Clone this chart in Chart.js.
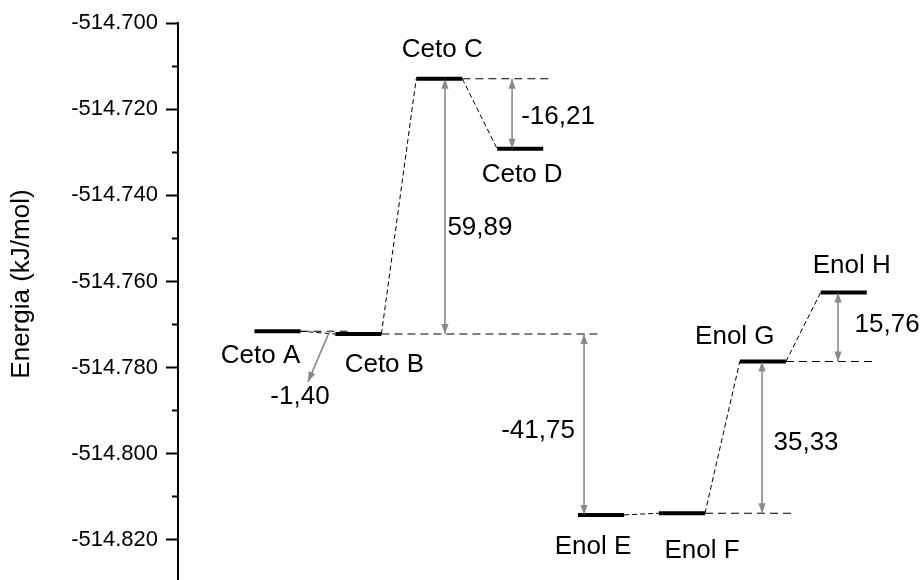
<!DOCTYPE html>
<html>
<head>
<meta charset="utf-8">
<script src="https://cdn.jsdelivr.net/npm/chart.js@4.4.0/dist/chart.umd.min.js"></script>
<style>
  html, body { margin: 0; padding: 0; background: #fff; overflow: hidden; }
  #wrap { width: 923px; height: 580px; position: relative; }
</style>
</head>
<body>
<div id="wrap"><canvas id="chart"></canvas></div>
<script>
// energy levels, one per conformer (x = position along the diagram)
const levelNames = ['Ceto A', 'Ceto B', 'Ceto C', 'Ceto D', 'Enol E', 'Enol F', 'Enol G', 'Enol H'];
const levelEnergy = [-514.77155, -514.77220, -514.71294, -514.72919, -514.81419, -514.81380, -514.77859, -514.76256];

// dashed links between neighbouring levels
const connectorPairs = [[0, 1], [1, 2], [2, 3], [4, 5], [5, 6], [6, 7]];

// dashed horizontal guides: start at a level, run right to an x value
const guideLevels = [0, 1, 2, 5, 6];
const guideEnds = [0.91, 3.96, 3.37, 6.36, 7.41];

// double arrows (from level, to level) and their labels
const arrowPairs = [[2, 1], [2, 3], [1, 4], [6, 5], [7, 6]];
const arrowX = [2.07, 2.90, 3.79, 5.99, 6.93];
const arrowLabels = ['59,89', '-16,21', '-41,75', '35,33', '15,76'];

// small pointer under Ceto A / Ceto B
const pointerStart = [0.65, -514.77130];
const pointerEnd = [0.377, -514.78330];
const pointerLabel = '-1,40';

const majorTicks = [-514.82, -514.80, -514.78, -514.76, -514.74, -514.72, -514.70];
const minorTicks = [-514.81, -514.79, -514.77, -514.75, -514.73, -514.71];

const FONT = '"Liberation Sans", Arial, Helvetica, sans-serif';
const halfWidth = 0.285;
const arrowColor = '#8a8a8a';

// label offsets in px: level names from level centre, arrow labels from arrow midpoint
const nameOffsets = [[-17, 25], [26, 31], [3, -29], [2, 26], [-8, 32], [20, 38], [-28, -25], [8, -27]];
const arrowLabelOffsets = [[35, 21], [46, 3], [-46, 6], [44, 5], [49, -2]];
const pointerLabelOffset = [-8, 15];

function segs(list) {
  const pts = [];
  list.forEach(([x1, y1, x2, y2]) => {
    pts.push({x: x1, y: y1}, {x: x2, y: y2}, {x: x2, y: null});
  });
  return pts;
}

const levelSegs = levelEnergy.map((e, i) => [i - halfWidth, e, i + halfWidth, e]);
const connectorSegs = connectorPairs.map(([a, b]) =>
  [a + halfWidth, levelEnergy[a], b - halfWidth, levelEnergy[b]]);
const guideSegs = guideLevels.map((l, k) =>
  [l + halfWidth, levelEnergy[l], guideEnds[k], levelEnergy[l]]);
const arrowSegs = arrowPairs.map(([a, b], k) =>
  [arrowX[k], levelEnergy[a], arrowX[k], levelEnergy[b]]);
arrowSegs.push([pointerStart[0], pointerStart[1], pointerEnd[0], pointerEnd[1]]);

function lineSet(data, color, width, dash) {
  return {
    data: data,
    borderColor: color,
    borderWidth: width,
    borderDash: dash,
    borderCapStyle: 'butt',
    pointRadius: 0,
    pointHoverRadius: 0,
    fill: false,
    tension: 0,
    spanGaps: false
  };
}

function head(ctx, x0, y0, x1, y1) {
  const a = Math.atan2(y1 - y0, x1 - x0);
  const L = 10, W = 3.6;
  ctx.beginPath();
  ctx.moveTo(x1, y1);
  ctx.lineTo(x1 - L * Math.cos(a) + W * Math.sin(a), y1 - L * Math.sin(a) - W * Math.cos(a));
  ctx.lineTo(x1 - L * Math.cos(a) - W * Math.sin(a), y1 - L * Math.sin(a) + W * Math.cos(a));
  ctx.closePath();
  ctx.fill();
}

const overlay = {
  id: 'overlay',
  afterDatasetsDraw(chart) {
    const {ctx} = chart;
    const x = chart.scales.x, y = chart.scales.y;
    ctx.save();

    // arrow heads
    ctx.fillStyle = arrowColor;
    arrowPairs.forEach(([a, b], k) => {
      const px = x.getPixelForValue(arrowX[k]);
      const pa = y.getPixelForValue(levelEnergy[a]);
      const pb = y.getPixelForValue(levelEnergy[b]);
      head(ctx, px, pb, px, pa);
      head(ctx, px, pa, px, pb);
    });
    const ps = [x.getPixelForValue(pointerStart[0]), y.getPixelForValue(pointerStart[1])];
    const pe = [x.getPixelForValue(pointerEnd[0]), y.getPixelForValue(pointerEnd[1])];
    head(ctx, ps[0], ps[1], pe[0], pe[1]);

    // texts
    ctx.fillStyle = '#000';
    ctx.font = '26px ' + FONT;
    ctx.textAlign = 'center';
    ctx.textBaseline = 'middle';
    levelNames.forEach((name, i) => {
      const [dx, dy] = nameOffsets[i];
      ctx.fillText(name, x.getPixelForValue(i) + dx, y.getPixelForValue(levelEnergy[i]) + dy);
    });
    arrowPairs.forEach(([a, b], k) => {
      const [dx, dy] = arrowLabelOffsets[k];
      const my = (y.getPixelForValue(levelEnergy[a]) + y.getPixelForValue(levelEnergy[b])) / 2;
      ctx.fillText(arrowLabels[k], x.getPixelForValue(arrowX[k]) + dx, my + dy);
    });
    ctx.fillText(pointerLabel, pe[0] + pointerLabelOffset[0], pe[1] + pointerLabelOffset[1]);

    // axis title
    ctx.translate(22, 284);
    ctx.rotate(-Math.PI / 2);
    ctx.fillText('Energia (kJ/mol)', 0, 0);
    ctx.restore();
  }
};

const yMin = -514.8293, yMax = -514.700;

new Chart(document.getElementById('chart'), {
  type: 'line',
  data: {
    datasets: [
      lineSet(segs(levelSegs), '#000', 4, []),
      lineSet(segs(arrowSegs), arrowColor, 1.6, []),
      lineSet(segs(connectorSegs), '#000', 1, [5, 3]),
      lineSet(segs(guideSegs), '#000', 1.1, [8, 5])
    ]
  },
  options: {
    responsive: true,
    maintainAspectRatio: false,
    animation: false,
    events: [],
    layout: {padding: {top: 23, right: 0, bottom: 0, left: 0}},
    plugins: {
      legend: {display: false},
      tooltip: {enabled: false}
    },
    scales: {
      x: {type: 'linear', display: false, min: -1.23, max: 7.98},
      y: {
        type: 'linear',
        position: 'left',
        weight: 1,
        min: yMin,
        max: yMax,
        afterBuildTicks: s => { s.ticks = majorTicks.map(v => ({value: v})); },
        afterFit: s => { s.width = 178; s.paddingTop = 0; s.paddingBottom = 0; },
        ticks: {
          color: '#000',
          padding: 8,
          font: {family: FONT, size: 22},
          callback: v => Number(v).toFixed(3)
        },
        grid: {drawOnChartArea: false, tickLength: 12, tickWidth: 2, tickColor: '#000', color: '#000'},
        border: {display: true, color: '#000', width: 2}
      },
      yMinor: {
        type: 'linear',
        position: 'left',
        weight: 0,
        min: yMin,
        max: yMax,
        afterBuildTicks: s => { s.ticks = minorTicks.map(v => ({value: v})); },
        afterFit: s => { s.width = 0; s.paddingTop = 0; s.paddingBottom = 0; },
        ticks: {display: false},
        grid: {drawOnChartArea: false, tickLength: 6, tickWidth: 2, tickColor: '#000', color: '#000'},
        border: {display: false}
      }
    }
  },
  plugins: [overlay]
});
</script>
</body>
</html>
